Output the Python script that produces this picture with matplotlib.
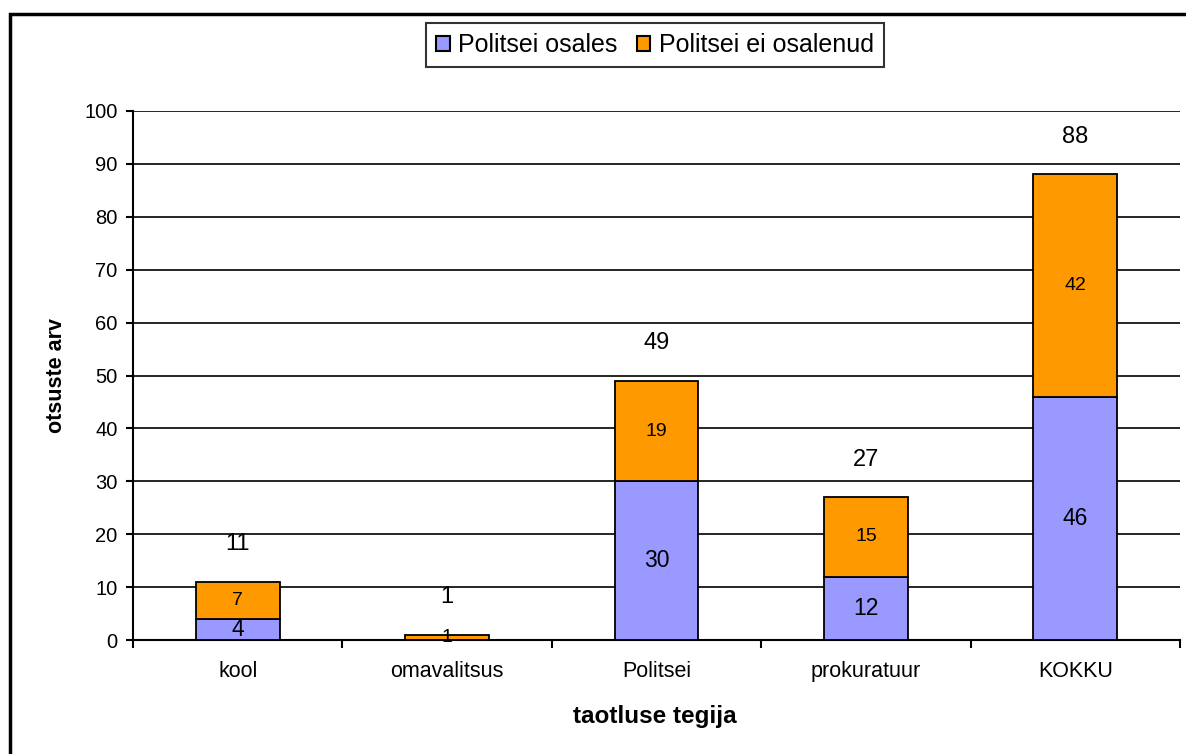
import matplotlib.pyplot as plt
import numpy as np
from matplotlib.patches import Rectangle, Patch

plt.rcParams['font.family'] = ['Liberation Sans', 'DejaVu Sans']

categories = ["kool", "omavalitsus", "Politsei", "prokuratuur", "KOKKU"]
osales = [4, 0, 30, 12, 46]
ei_osalenud = [7, 1, 19, 15, 42]
totals = [11, 1, 49, 27, 88]

BLUE = "#9999FF"
ORANGE = "#FF9900"

fig = plt.figure(figsize=(11.86, 7.54), dpi=100)
ax = fig.add_axes([133 / 1186, 1 - 640 / 754, (1180 - 133) / 1186, (640 - 111) / 754])

x = np.arange(len(categories))
w = 0.4

ax.bar(x, osales, w, color=BLUE, edgecolor="black", linewidth=1.3, zorder=3)
ax.bar(x, ei_osalenud, w, bottom=osales, color=ORANGE, edgecolor="black", linewidth=1.3, zorder=3)

# segment labels
for i in range(len(categories)):
    if osales[i] > 0:
        ax.text(x[i], osales[i] / 2, str(osales[i]), ha="center", va="center", fontsize=16.5, zorder=4)
    ax.text(x[i], osales[i] + ei_osalenud[i] / 2, str(ei_osalenud[i]), ha="center", va="center",
            fontsize=14, zorder=4)
    ax.annotate(str(totals[i]), (x[i], totals[i]), xytext=(0, 27), textcoords="offset points",
                ha="center", va="center", fontsize=17)

ax.set_ylim(0, 100)
ax.set_xlim(-0.5, len(categories) - 0.5)
ax.set_yticks(np.arange(0, 101, 10))
ax.yaxis.grid(True, color="black", linewidth=1.2, zorder=0)
ax.set_axisbelow(True)

ax.set_xticks(x)
ax.set_xticklabels(categories, fontsize=15.5)
ax.tick_params(axis="x", length=0, pad=15)
ax.set_xticks(np.arange(-0.5, len(categories), 1), minor=True)
ax.tick_params(axis="x", which="minor", length=6, width=1.5, direction="out")
ax.tick_params(axis="y", length=5, width=1.5, labelsize=14.5, pad=6)

for s in ["top", "right"]:
    ax.spines[s].set_visible(False)
ax.spines["left"].set_linewidth(1.5)
ax.spines["bottom"].set_linewidth(1.5)

fig.text(56 / 1186, 1 - 375 / 754, "otsuste arv", rotation=90, ha="center", va="center",
         fontsize=15.5, fontweight="bold")
fig.text(655 / 1186, 1 - 717 / 754, "taotluse tegija", ha="center", va="center",
         fontsize=17.5, fontweight="bold")

handles = [Patch(facecolor=BLUE, edgecolor="black", linewidth=1.5),
           Patch(facecolor=ORANGE, edgecolor="black", linewidth=1.5)]
leg = fig.legend(handles, ["Politsei osales", "Politsei ei osalenud"], loc="center",
                 bbox_to_anchor=(655 / 1186, 1 - 45 / 754), ncol=2, fontsize=18,
                 frameon=True, fancybox=False, handlelength=0.55, handleheight=0.55,
                 handletextpad=0.35, columnspacing=0.75, borderpad=0.4, borderaxespad=0)
leg.get_frame().set_edgecolor("black")
leg.get_frame().set_linewidth(1.5)

# outer chart border
fig.patches.append(Rectangle((9.5 / 1186, -0.1), 1.2, 1.1 - 14.5 / 754, transform=fig.transFigure,
                             fill=False, edgecolor="black", linewidth=2.5))

fig.savefig("out.png", dpi=100)
